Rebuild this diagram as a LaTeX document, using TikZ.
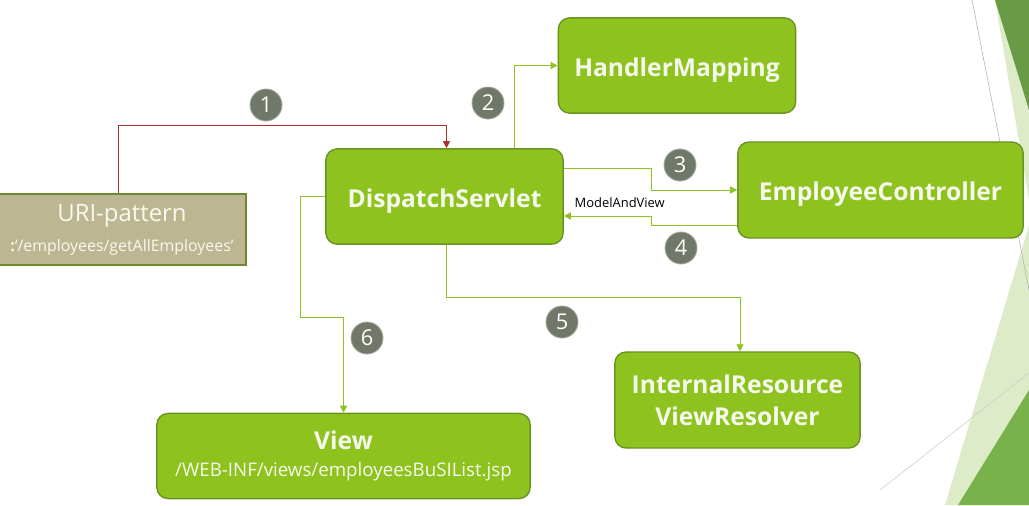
\documentclass[tikz,border=0pt]{standalone}
\usepackage{fontspec}
\setmainfont{Open Sans}
\usetikzlibrary{arrows.meta,calc}
\definecolor{leaf}{HTML}{8DC21F}
\definecolor{leafdark}{HTML}{6B9322}
\definecolor{cream}{HTML}{F6FAEC}
\definecolor{sand}{HTML}{BDB692}
\definecolor{sandedge}{HTML}{6E8A2C}
\definecolor{numgray}{HTML}{6F7869}
\definecolor{numedge}{HTML}{A3AA9D}
\definecolor{redline}{HTML}{A8322D}
\definecolor{fan1}{HTML}{6A9A45}
\definecolor{fan2}{HTML}{DDEBC9}
\definecolor{fan3}{HTML}{79B24A}

\begin{document}
\begin{tikzpicture}[x=0.025cm, y=-0.025cm,
  box/.style={draw=leafdark, fill=leaf, line width=1pt, rounded corners=8pt,
              text=cream, font=\bfseries\fontsize{17.5}{22}\selectfont,
              align=center, inner sep=0pt},
  oneline/.style={text height=15.5pt, text depth=0pt},
  num/.style={circle, fill=numgray, draw=numedge, line width=0.6pt,
              minimum size=0.8cm, inner sep=0pt, text=white,
              font=\fontsize{15.5}{15.5}\selectfont},
  link/.style={draw=leaf, line width=0.7pt, -{Triangle[length=5pt,width=5pt]}},
]
  \useasboundingbox (0,0) rectangle (1029,505);

  % slide ornament on the right
  \fill[fan2] (995,0) -- (1029,200) -- (1029,0) -- cycle;
  \fill[fan1] (995,0) -- (1029,110) -- (1029,0) -- cycle;
  \fill[fan2] (1029,225) -- (945,505) -- (1029,505) -- cycle;
  \fill[fan3] (1029,390) -- (958,505) -- (1029,505) -- cycle;
  \draw[black!30, line width=0.4pt] (972,0) -- (1029,290);
  \draw[black!20, line width=0.4pt] (880,490) -- (1029,373);

  % boxes
  \node[box, oneline, minimum width=5.93cm, minimum height=2.38cm] (handler) at (677,65.5) {HandlerMapping};
  \node[box, oneline, minimum width=5.93cm, minimum height=2.38cm] (disp) at (444.5,196.5) {DispatchServlet};
  \node[box, oneline, minimum width=7.13cm, minimum height=2.4cm] (emp) at (880.5,190) {EmployeeController};
  \node[box, minimum width=6.13cm, minimum height=2.4cm, font=\bfseries\fontsize{17.5}{22.5}\selectfont] (resolver) at (737.5,400) {InternalResource\\ViewResolver};
  \node[box, minimum width=9.33cm, minimum height=2.13cm, font=\bfseries\fontsize{17.5}{19.5}\selectfont] (view) at (343.5,456)
    {View\\{\fontsize{13.3}{15}\mdseries\selectfont /WEB-INF/views/employeesBuSIList.jsp}};
  \node[draw=sandedge, fill=sand, line width=1.2pt, text=cream, align=center, inner sep=0pt,
        minimum width=6.2cm, minimum height=1.78cm, font=\fontsize{17}{21.5}\selectfont] (uri) at (122,229.5)
    {URI-pattern\\{\fontsize{11.3}{12}\selectfont\textbf{:}‘/employees/getAllEmployees’}};

  % step numbers
  \node[num] (c1) at (266,105) {1};
  \node[num] (c2) at (488,103) {2};
  \node[num] (c3) at (680,165) {3};
  \node[num] (c4) at (681,248) {4};
  \node[num] (c5) at (562,322) {5};
  \node[num] (c6) at (367,338) {6};

  % connectors
  \draw[link, draw=redline, line width=0.6pt] ($(uri.north)+(-4,0)$) -- ++(0,-68) -| ($(disp.north)+(2,0)$);
  \draw[link] ($(disp.north)+(70,0)$) |- (handler.west);
  \draw[link] ($(disp.east)+(0,-28)$) -- ++(88,0) |- (emp.west);
  \draw[link] ($(emp.west)+(0,35)$) -- ++(-86,0) |- ($(disp.east)+(0,19.5)$)
    node[pos=0.68, above=2pt, font=\fontsize{9.2}{10}\selectfont, text=black] {ModelAndView};
  \draw[link] ($(disp.south)+(2,0)$) -- ++(0,53) -| ($(resolver.north)+(2.5,0)$);
  \draw[link] (disp.west) -- ++(-25,0) -- ++(0,121) -| (view.north);
\end{tikzpicture}
\end{document}
